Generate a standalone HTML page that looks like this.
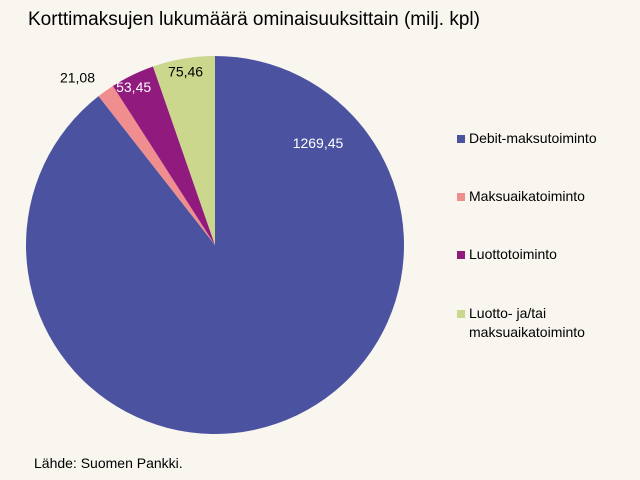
<!DOCTYPE html>
<html><head><meta charset="utf-8"><style>
body{margin:0;background:#f9f5ef;font-family:"Liberation Sans",sans-serif}
svg{display:block}
</style></head><body>
<svg id="c" width="640" height="480" xmlns="http://www.w3.org/2000/svg">
<rect width="640" height="480" fill="#f9f5ef"/>
<text x="28" y="25" font-size="19" fill="#000">Korttimaksujen lukumäärä ominaisuuksittain (milj. kpl)</text>
<g id="slices"></g>
<g id="legend"></g>
<text x="34" y="468" font-size="14" fill="#000">Lähde: Suomen Pankki.</text>
</svg>
<script>
const categories=["Debit-maksutoiminto","Maksuaikatoiminto","Luottotoiminto","Luotto- ja/tai maksuaikatoiminto"];
const values=[1269.45,21.08,53.45,75.46];
const labels=["1269,45","21,08","53,45","75,46"];
const colors=["#4b53a1","#f08e8f","#911a7f","#cad78c"];
const NS="http://www.w3.org/2000/svg";
const cx=215,cy=245,r=189;
const total=values.reduce((a,b)=>a+b,0);
const sg=document.getElementById('slices');
let a0=0;
function pt(a,rr){return [cx+rr*Math.sin(a),cy-rr*Math.cos(a)];}
values.forEach((v,i)=>{
  const a1=a0+v/total*2*Math.PI;
  const p0=pt(a0,r),p1=pt(a1,r);
  const large=(a1-a0)>Math.PI?1:0;
  const p=document.createElementNS(NS,'path');
  p.setAttribute('d',`M${cx},${cy}L${p0[0]},${p0[1]}A${r},${r} 0 ${large} 1 ${p1[0]},${p1[1]}Z`);
  p.setAttribute('fill',colors[i]);
  
  
  sg.appendChild(p);
  const mid=(a0+a1)/2;
  let t=document.createElementNS(NS,'text');
  let lp,fill,anchor='middle';
  if(i===0){lp=pt(mid,0);lp=[318,148];fill='#fff';}
  else if(i===1){lp=pt(mid,r+14);lp=[lp[0]-20,lp[1]+3];fill='#000';}
  else if(i===2){lp=pt(mid,r-12);lp=[lp[0]-4,lp[1]+6];fill='#fff';}
  else{lp=pt(mid,r-12);lp=[lp[0],lp[1]+6];fill='#000';}
  t.setAttribute('x',lp[0]);t.setAttribute('y',lp[1]);
  t.setAttribute('text-anchor',anchor);t.setAttribute('font-size','14');t.setAttribute('fill',fill);
  t.textContent=labels[i];
  
  
  sg.appendChild(t);
  a0=a1;
});
const lg=document.getElementById('legend');
const ly=[143,201,259,318];
categories.forEach((c,i)=>{
  const g=document.createElementNS(NS,'g');
  
  
  const s=document.createElementNS(NS,'rect');
  s.setAttribute('x',457);s.setAttribute('y',ly[i]-8);s.setAttribute('width',8);s.setAttribute('height',8);s.setAttribute('fill',colors[i]);
  g.appendChild(s);
  const t=document.createElementNS(NS,'text');
  t.setAttribute('x',469);t.setAttribute('y',ly[i]);t.setAttribute('font-size','14');
  if(i===3){
    t.innerHTML='<tspan x="469">Luotto- ja/tai</tspan><tspan x="469" dy="19">maksuaikatoiminto</tspan>';
  } else t.textContent=c;
  g.appendChild(t);
  lg.appendChild(g);
});
</script>
</body></html>
